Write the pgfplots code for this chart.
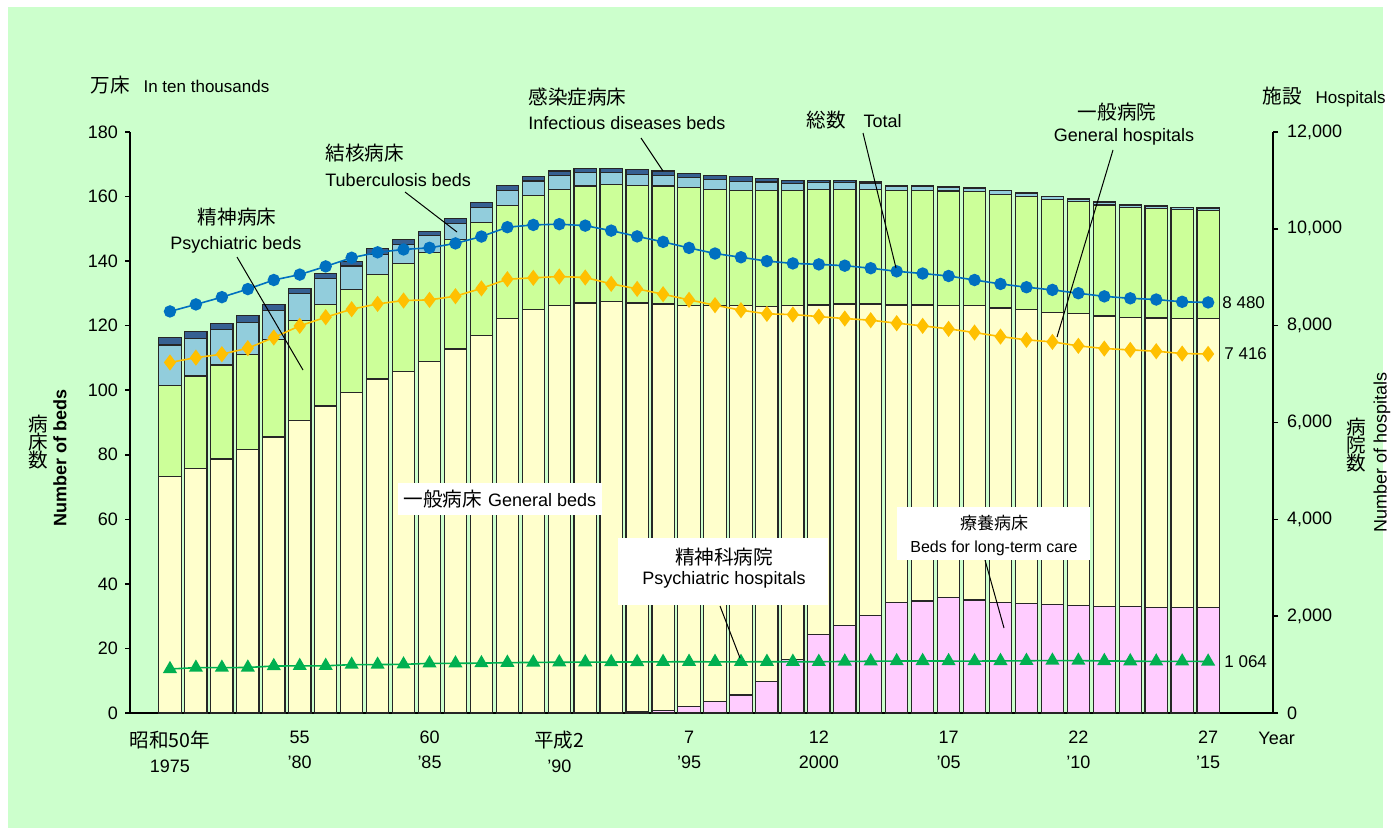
\documentclass[border=0pt]{standalone}
\usepackage{fontspec}
\setmainfont{Liberation Sans}
\newfontfamily\jp{Noto Sans CJK JP}
\usepackage{pgfplots}
\pgfplotsset{compat=1.18}
\usepackage{pgfplotstable}

\definecolor{bg}{HTML}{CCFFCC}
\definecolor{cLT}{HTML}{FFCCFF}
\definecolor{cG}{HTML}{FFFFCC}
\definecolor{cP}{HTML}{CCFF99}
\definecolor{cT}{HTML}{92CDDC}
\definecolor{cI}{HTML}{366092}
\definecolor{lTot}{HTML}{0070C0}
\definecolor{lGen}{HTML}{FFC000}
\definecolor{lPsy}{HTML}{00B050}

\newcommand\fA{\normalfont\fontsize{9pt}{10.8pt}\selectfont}
\newcommand\fJ{\normalfont\fontsize{9.8pt}{11.5pt}\selectfont\jp}
\newcommand\fS{\normalfont\fontsize{8.5pt}{10pt}\selectfont}

% beds, in ten thousands: long-term care, general, psychiatric, tuberculosis, infectious
\pgfplotstableread{
i  lt    g      p     t     inf
0  0     73.3   28.1  12.6  2.4
1  0     75.7   28.7  11.7  2.0
2  0     78.7   29.1  10.9  2.0
3  0     81.7   29.4  10.0  2.1
4  0     85.5   30.3  9.0   1.8
5  0     90.6   30.9  8.5   1.6
6  0     95.1   31.5  7.9   1.7
7  0     99.2   32.1  7.2   1.5
8  0     103.5  32.3  6.3   1.7
9  0     105.9  33.4  5.9   1.5
10 0     109.0  33.6  5.4   1.3
11 0     112.8  33.9  5.0   1.4
12 0     116.9  35.0  4.8   1.4
13 0     122.1  35.2  4.7   1.4
14 0     124.9  35.4  4.5   1.3
15 0     126.3  36.0  4.3   1.3
16 0     127.0  36.3  4.1   1.3
17 0     127.4  36.3  3.7   1.3
18 0.3   126.7  36.4  3.5   1.4
19 0.9   125.8  36.6  3.3   1.3
20 1.9   124.4  36.4  3.3   1.1
21 3.5   122.7  36.0  3.0   1.4
22 5.6   120.6  35.8  2.7   1.4
23 9.8   116.2  35.8  2.7   1.2
24 16.5  109.8  35.6  2.2   0.8
25 24.2  102.2  35.8  2.2   0.5
26 27.1  99.6   35.5  2.2   0.5
27 30.3  96.4   35.4  2.0   0.4
28 34.2  92.2   35.4  1.4   0.2
29 34.7  91.7   35.4  1.3   0.2
30 35.9  90.4   35.4  1.2   0.2
31 35.0  91.3   35.2  1.1   0.2
32 34.3  91.2   35.2  1.1   0.2
33 33.9  91.2   34.9  0.9   0.2
34 33.6  90.6   34.8  0.9   0.2
35 33.3  90.4   34.7  0.8   0.2
36 33.0  90.0   34.4  0.75  0.2
37 32.9  89.6   34.2  0.7   0.2
38 32.8  89.6   34.0  0.65  0.2
39 32.8  89.3   33.8  0.6   0.2
40 32.8  89.4   33.6  0.55  0.18
}\beds

% hospitals: total, general, psychiatric
\pgfplotstableread{
i  tot    gen   psy
0  8294   7240  909
1  8439   7340  937
2  8589   7411  937
3  8756   7535  940
4  8943   7755  971
5  9055   7996  973
6  9224   8175  975
7  9403   8340  999
8  9515   8450  1000
9  9574   8519  1005
10 9608   8533  1026
11 9699   8609  1026
12 9841   8770  1030
13 10034  8960  1040
14 10081  8988  1045
15 10096  9015  1049
16 10066  8995  1050
17 9963   8864  1052
18 9844   8760  1055
19 9731   8650  1057
20 9606   8533  1059
21 9490   8423  1057
22 9413   8320  1057
23 9333   8244  1059
24 9286   8230  1060
25 9266   8188  1058
26 9239   8147  1065
27 9187   8113  1069
28 9122   8051  1073
29 9077   7996  1076
30 9026   7934  1073
31 8943   7858  1072
32 8862   7775  1076
33 8794   7707  1079
34 8739   7665  1083
35 8670   7583  1082
36 8605   7527  1076
37 8565   7500  1071
38 8540   7472  1066
39 8493   7424  1067
40 8480   7416  1064
}\hosp

\begin{document}
\begin{tikzpicture}[x=0.5pt,y=-0.5pt]
\fill[white] (0,0) rectangle (1391,835);
\fill[bg] (8,7) rectangle (1383,828);

\begin{axis}[
  at={(65pt,-356.5pt)}, anchor=south west,
  width=571.5pt, height=290.5pt, scale only axis,
  ybar stacked, bar width=0.86,
  xmin=-1.54, xmax=42.5, ymin=0, ymax=180,
  axis x line*=bottom, axis y line*=left,
  axis line style={-, line width=1pt, black},
  xtick={0,5,...,40},
  xticklabels={{{\fJ 昭和50年}\\[1.5pt]1975},{55\\[1.5pt]’80},{60\\[1.5pt]’85},{{\fJ 平成2}\\[1.5pt]’90},{7\\[1.5pt]’95},{12\\[1.5pt]2000},{17\\[1.5pt]’05},{22\\[1.5pt]’10},{27\\[1.5pt]’15}},
  x tick style={draw=none},
  xticklabel style={align=center, font=\fA, yshift=-3pt},
  ytick={0,20,...,180},
  tick align=outside, major tick length=2.5pt,
  y tick style={line width=0.8pt, black},
  yticklabel style={font=\fA},
  /pgf/number format/assume math mode=true,
  clip=false,
  every axis plot/.append style={draw=black!85, line width=0.6pt},
]
\addplot[fill=cLT] table[x=i,y=lt]{\beds};
\addplot[fill=cG] table[x=i,y=g]{\beds};
\addplot[fill=cP] table[x=i,y=p]{\beds};
\addplot[fill=cT] table[x=i,y=t]{\beds};
\addplot[fill=cI] table[x=i,y=inf]{\beds};
\end{axis}

\begin{axis}[
  at={(65pt,-356.5pt)}, anchor=south west,
  width=571.5pt, height=290.5pt, scale only axis,
  xmin=-1.54, xmax=42.5, ymin=0, ymax=12000,
  axis x line=none, axis y line*=right,
  axis line style={-, line width=1pt, black},
  ytick={0,2000,...,12000},
  tick align=outside, major tick length=2.5pt,
  y tick style={line width=0.8pt, black},
  yticklabel style={font=\fA, xshift=1pt},
  scaled y ticks=false,
  /pgf/number format/assume math mode=true,
  /pgf/number format/1000 sep={,},
  clip=false,
]
\addplot[lTot, line width=0.8pt, mark=*, mark size=2.7pt, mark options={fill=lTot, draw=lTot}] table[x=i,y=tot]{\hosp};
\addplot[lGen, line width=0.8pt, mark=diamond*, mark size=3.4pt, mark options={fill=lGen, draw=lGen}] table[x=i,y=gen]{\hosp};
\addplot[lPsy, line width=0.8pt, mark=triangle*, mark size=3.3pt, mark options={fill=lPsy, draw=lPsy}] table[x=i,y=psy]{\hosp};
\end{axis}

% leader lines
\draw[black, line width=0.5pt] (237,257) -- (303,370);
\draw[black, line width=0.5pt] (405,192) -- (457,232);
\draw[black, line width=0.5pt] (641,138) -- (663,171);
\draw[black, line width=0.5pt] (863,133) -- (896,268);
\draw[black, line width=0.5pt] (1113,150) -- (1057,337);
\draw[black, line width=0.5pt] (720,606) -- (740,658);
\draw[black, line width=0.5pt] (985,560) -- (1004,628);

% unit labels
\node[anchor=west, inner sep=0] at (90,85) {\fJ 万床\hspace{7pt}\fS In ten thousands};
\node[anchor=west, inner sep=0] at (1262,97) {\fJ 施設\hspace{7pt}\fS Hospitals};

% axis titles
\node[align=center, inner sep=0] at (38,442) {\fJ 病\\[-3pt]\fJ 床\\[-3pt]\fJ 数};
\node[rotate=90, inner sep=0] at (60,458) {\fA\bfseries Number of beds};
\node[align=center, inner sep=0] at (1356,445) {\fJ 病\\[-3pt]\fJ 院\\[-3pt]\fJ 数};
\node[rotate=90, inner sep=0] at (1382,452) {\fA Number of hospitals};
\node[anchor=west, inner sep=0] at (1258,738) {\fA Year};

% annotations
\node[inner sep=0] at (237,217) {\fJ 精神病床};
\node[inner sep=0] at (236,245) {\fA Psychiatric beds};
\node[anchor=west, inner sep=0] at (325,153) {\fJ 結核病床};
\node[anchor=west, inner sep=0] at (325,180) {\fA Tuberculosis beds};
\node[anchor=west, inner sep=0] at (528,97) {\fJ 感染症病床};
\node[anchor=west, inner sep=0] at (528,123) {\fA Infectious diseases beds};
\node[anchor=west, inner sep=0] at (806,120) {\fJ 総数\hspace{9pt}\fA Total};
\node[inner sep=0] at (1117,112) {\fJ 一般病院};
\node[inner sep=0] at (1124,137) {\fA General hospitals};

\fill[white] (398,483) rectangle (602,515);
\node[inner sep=0] at (500,499) {\fJ 一般病床\hspace{3pt}\fA General beds};
\fill[white] (618,538) rectangle (828,605);
\node[inner sep=0] at (724,557) {\fJ 精神科病院};
\node[inner sep=0] at (724,580) {\fA Psychiatric hospitals};
\fill[white] (897,507) rectangle (1090,560);
\node[inner sep=0] at (994,523) {\normalfont\fontsize{8.5pt}{10pt}\selectfont\jp 療養病床};
\node[inner sep=0] at (994,548) {\normalfont\fontsize{8pt}{10pt}\selectfont Beds for long-term care};

% data labels
\node[anchor=west, inner sep=0] at (1222,303) {\fS 8 480};
\node[anchor=west, inner sep=0] at (1224,354) {\fS 7 416};
\node[anchor=west, inner sep=0] at (1224,662) {\fS 1 064};
\end{tikzpicture}
\end{document}
